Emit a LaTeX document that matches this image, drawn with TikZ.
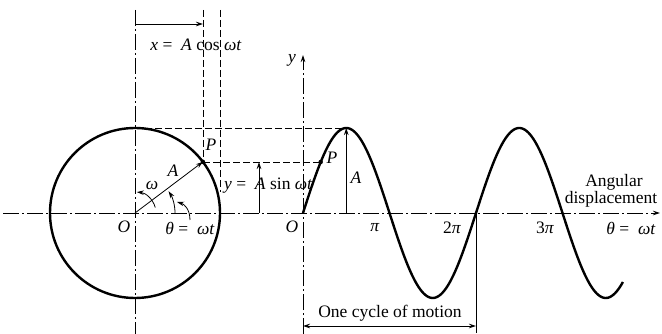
\documentclass[tikz,border=0pt]{standalone}
\usepackage{fontspec}
\setmainfont{Liberation Serif}
\usetikzlibrary{arrows.meta,calc}
\begin{document}
\begin{tikzpicture}[x=1pt,y=-1pt,
  thinln/.style={line width=0.8pt},
  tip/.style={-{Stealth[length=7pt,width=4.5pt]}},
  dtip/.style={{Stealth[length=7pt,width=4.5pt]}-{Stealth[length=7pt,width=4.5pt]}},
  dashln/.style={line width=0.8pt, dash pattern=on 7pt off 3pt},
  dashdot/.style={line width=0.8pt, dash pattern=on 16pt off 3pt on 2pt off 3pt},
  heavy/.style={line width=2.4pt},
  lbl/.style={font=\fontsize{17.5}{19}\selectfont, inner sep=0pt},
  pdot/.style={circle, fill=black, inner sep=0pt, minimum size=4.5pt}]
\useasboundingbox (0,0) rectangle (662,334);
% key coordinates
\coordinate (O1) at (135,213);
\coordinate (P1) at ($(135,213)+(-37:85)$);
\coordinate (O2) at (303,213);
\coordinate (peak) at (346.25,128);
\coordinate (P2) at (320.7,162);
\coordinate (twopi) at (476,213);
% center lines
\draw[dashdot] (135,10) -- (135,334);
\draw[dashdot, tip] (3,213) -- (660,213);
\draw[dashdot, tip] (303,334) -- (303,55);
% dashed projection lines
\draw[dashln] (203,10) -- (203,162);
\draw[dashln] (220,10) -- (220,192);
\draw[dashln] (135,128) -- (peak);
\draw[dashln] (203,162) -- (P2);
% circle
\draw[heavy] (O1) circle (85);
% radius
\draw[thinln, tip] (O1) -- (P1);
\node[pdot] (pc) at (P1) {};
% omega arc
\draw[thinln, tip] ($(O1)+(-15:21)$) arc[start angle=-15, end angle=-85, radius=21];
% theta arc
\draw[thinln, tip] ($(O1)+(0:40)$) arc[start angle=0, end angle=-33, radius=40];
% theta leader
\draw[thinln, tip] (190,220) .. controls (190,209) and (184,204) .. (177,202);
% x arrow
\draw[thinln, tip] (135,24) -- (203,24);
% y arrow
\draw[thinln, tip] (259,213) -- (259,162);
% sine
\draw[heavy] plot[domain=0:3.70, samples=200] ({303+86.5*\x}, {213-85*sin(\x*180)});
\node[pdot] (ps) at (P2) {};
% A arrow
\draw[thinln, tip] (346.25,213) -- (peak);
% one cycle
\draw[thinln] (twopi) -- (476,333);
\draw[thinln, dtip] (303,326) -- (476,326);
% labels
\node[lbl] (lx) at (196,45) {\textit{x} = \ \textit{A} cos \textit{ωt}};
\node[lbl] (ly) at (292,60) {\textit{y}};
\node[lbl] (lP1) at (211,145) {\textit{P}};
\node[lbl] (lP2) at (332,158) {\textit{P}};
\node[lbl] (lA1) at (173,171) {\textit{A}};
\node[lbl] (lw) at (152,185) {\textit{ω}};
\node[lbl, anchor=west] (lysin) at (224,186) {\textit{y} = \ \textit{A} sin \textit{ωt}};
\node[lbl] (lA2) at (356,178) {\textit{A}};
\node[lbl] (lO1) at (124,227) {\textit{O}};
\node[lbl] (lth1) at (190,228) {\textit{θ} = \ \textit{ωt}};
\node[lbl] (lO2) at (292,227) {\textit{O}};
\node[lbl] (lpi) at (375,228) {\textit{π}};
\node[lbl] (l2pi) at (452,228) {2\textit{π}};
\node[lbl] (l3pi) at (545,228) {3\textit{π}};
\node[lbl] (lth2) at (631,228) {\textit{θ} = \ \textit{ωt}};
\node[lbl] (lang) at (614,182) {Angular};
\node[lbl] (ldisp) at (611,199) {displacement};
\node[lbl] (lcyc) at (390,313) {One cycle of motion};
\end{tikzpicture}
\end{document}
